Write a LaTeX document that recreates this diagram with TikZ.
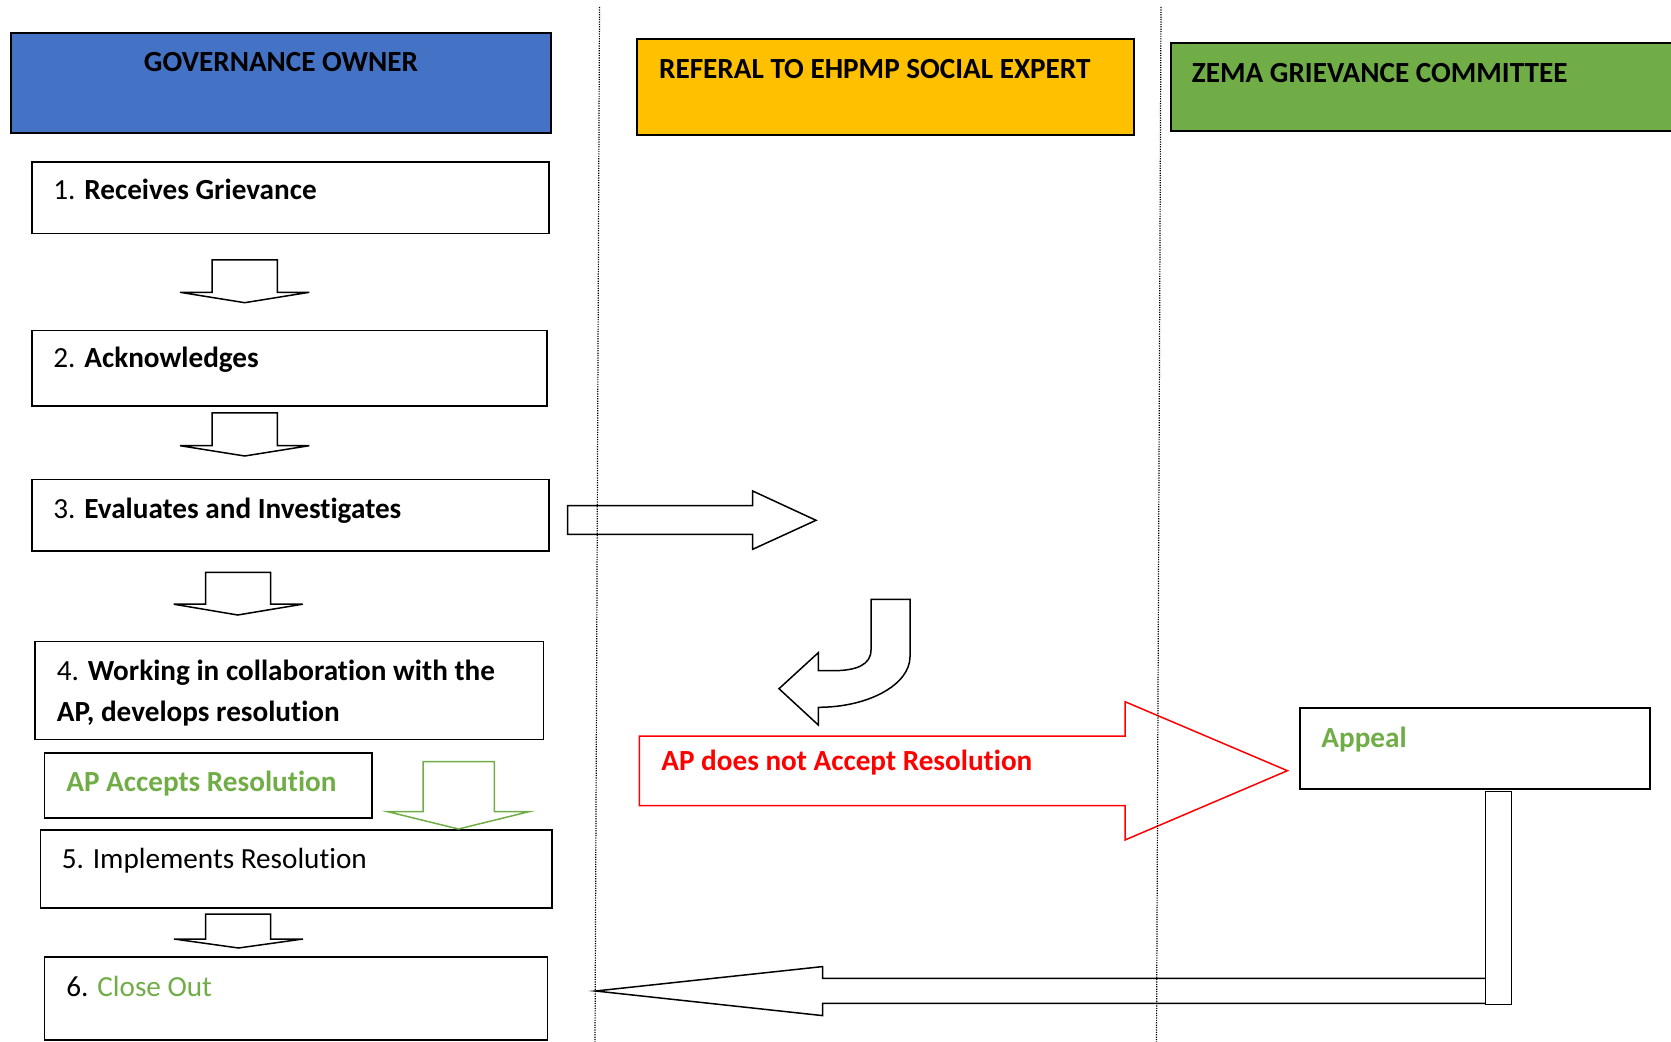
\documentclass[tikz,border=0pt]{standalone}
\usepackage{fontspec}
\setmainfont{Carlito}[RawFeature={-liga;-dlig;-clig;-calt}]
\usetikzlibrary{fit}
\definecolor{gblue}{HTML}{4472C4}
\definecolor{gyellow}{HTML}{FFC000}
\definecolor{ggreen}{HTML}{70AD47}
\definecolor{gred}{HTML}{FF0000}
\begin{document}
\begin{tikzpicture}[x=0.5pt,y=-0.5pt,
  box/.style={draw=black, line width=0.85pt, inner sep=0pt},
  hdr/.style={draw=black, line width=1pt, inner sep=0pt},
  txt/.style={anchor=base west, inner sep=0pt, font=\fontsize{14.6}{17}\selectfont},
  blk/.style={draw=black, line width=0.75pt, line join=miter},
  lane/.style={line width=0.6pt, dash pattern=on 0.6pt off 0.6pt}]
\useasboundingbox (0,0) rectangle (1671,1042);

% header boxes
\node[hdr, fill=gblue, fit={(10.7,33.3)(551,132.7)}] (gov) {};
\node[hdr, fill=gyellow, fit={(637,39.5)(1134,135)}] (ref) {};
\node[hdr, fill=ggreen, fit={(1170.5,43.3)(1690,130.7)}] (zema) {};
\node[txt, anchor=base] (govt) at (281,71.7) {\bfseries GOVERNANCE OWNER};
\node[txt] (reft) at (658.7,79) {\bfseries REFERAL TO EHPMP SOCIAL EXPERT};
\node[txt] (zemat) at (1191.5,82.7) {\bfseries ZEMA GRIEVANCE COMMITTEE};

% step boxes
\node[box, fit={(32,162)(549,233.4)}] (b1) {};
\node[box, fit={(32,330.4)(546.7,406)}] (b2) {};
\node[box, fit={(32,479.6)(548.8,551)}] (b3) {};
\node[box, fit={(35.2,641.5)(543.5,739.6)}] (b4) {};
\node[box, fit={(44.4,752.7)(371.9,818.3)}] (acc) {};
\node[box, fit={(40.4,830)(551.9,907.7)}] (b5) {};
\node[box, fit={(44.4,957.3)(547.4,1040)}] (b6) {};
\node[box, fit={(1300,708.3)(1650,789)}] (app) {};

\node[txt] (b1t) at (53,200) {1. \textbf{Receives Grievance}};
\node[txt] (b2t) at (53,368) {2. \textbf{Acknowledges}};
\node[txt] (b3t) at (53,518.6) {3. \textbf{Evaluates and Investigates}};
\node[txt] (b4t) at (56.5,680.6) {4. \textbf{Working in collaboration with the}};
\node[txt] (b4u) at (56.5,721.1) {\textbf{AP, develops resolution}};
\node[txt, text=ggreen] (acct) at (66,791.4) {\bfseries AP Accepts Resolution};
\node[txt] (b5t) at (61.5,868.5) {5. Implements Resolution};
\node[txt] (b6t) at (66,996) {6. {\color{ggreen}Close Out}};
\node[txt, text=ggreen] (appt) at (1321,747.5) {\bfseries Appeal};

% down block arrows
\draw[blk] (212,260) -- (277.3,260) -- (277.3,292.3) -- (309.3,292.3) -- (244.7,302.7) -- (180,292.3) -- (212,292.3) -- cycle;
\draw[blk] (212,413) -- (277.3,413) -- (277.3,445.7) -- (309.3,445.7) -- (244.7,456) -- (180,445.7) -- (212,445.7) -- cycle;
\draw[blk] (205.7,572.3) -- (270.7,572.3) -- (270.7,604.2) -- (302.7,604.2) -- (237.7,615) -- (173.7,604.2) -- (205.7,604.2) -- cycle;
\draw[blk] (205.5,914) -- (270.7,914) -- (270.7,939) -- (303,939) -- (238.5,948) -- (174,939) -- (205.5,939) -- cycle;
\draw[blk, draw=ggreen] (423,761.7) -- (494.4,761.7) -- (494.4,811.7) -- (528.9,811.7) -- (458.5,829) -- (387.8,811.7) -- (423,811.7) -- cycle;

% right block arrow
\draw[blk] (567.7,505.7) -- (752.7,505.7) -- (752.7,491) -- (816,520.3) -- (752.7,549.3) -- (752.7,534.3) -- (567.7,534.3) -- cycle;

% curved arrow
\draw[blk] (871,599.3) -- (910,599.3) -- (910,656.7)
  .. controls (910,684.5) and (868.7,707.3) .. (818.3,707.3)
  -- (818.3,725) -- (779,688.7) -- (818.3,652.7) -- (818.3,670.7) -- (833,670.7)
  .. controls (856,670.7) and (871,665) .. (871,650) -- cycle;

% red arrow
\draw[blk, draw=gred] (639.4,736) -- (1125,736) -- (1125,701.7) -- (1287.4,770.7) -- (1125,840) -- (1125,805.7) -- (639.4,805.7) -- cycle;
\node[txt, text=gred] (redt) at (661,770) {\bfseries AP does not Accept Resolution};

% appeal return
\draw[blk] (1485.7,978.3) -- (822.5,978.3) -- (822.5,966.6) -- (595.6,991) -- (822.5,1015.6) -- (822.5,1003.3) -- (1485.7,1003.3);
\draw[blk] (1485.7,791.7) rectangle (1511.7,1004.7);

% lanes
\draw[lane] (599.5,7) -- (595,1042);
\draw[lane] (1161,7) -- (1156.5,1042);
\end{tikzpicture}
\end{document}
